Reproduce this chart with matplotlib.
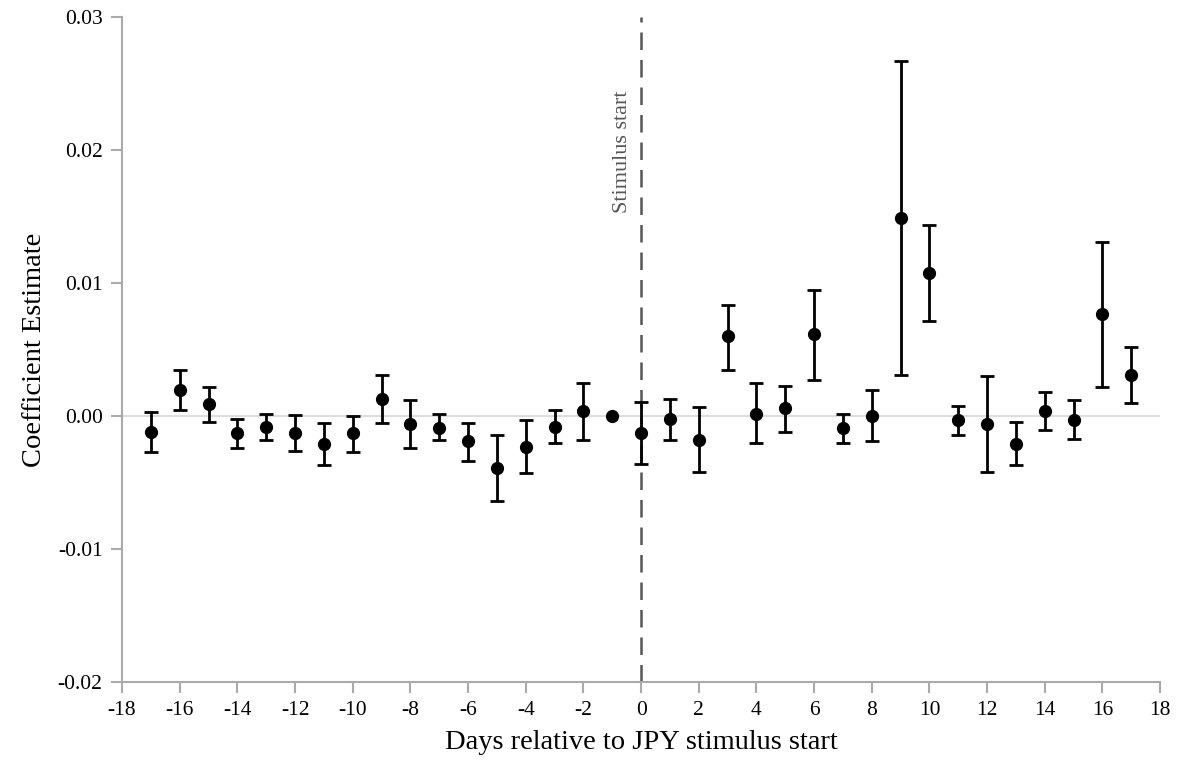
import numpy as np
from matplotlib import pyplot as plt

plt.rcParams['font.family'] = ['Liberation Serif', 'DejaVu Serif']

days = [-17, -16, -15, -14, -13, -12, -11, -10, -9, -8, -7, -6, -5, -4, -3, -2, -1,
        0, 1, 2, 3, 4, 5, 6, 7, 8, 9, 10, 11, 12, 13, 14, 15, 16, 17]
coef = [-0.0012, 0.0020, 0.0009, -0.0013, -0.0008, -0.0013, -0.0021, -0.0013, 0.0013,
        -0.0006, -0.0009, -0.0019, -0.0039, -0.0023, -0.0008, 0.0004, 0.0000,
        -0.0013, -0.0002, -0.0018, 0.0060, 0.0002, 0.0006, 0.0062, -0.0009, 0.0000,
        0.0149, 0.0108, -0.0003, -0.0006, -0.0021, 0.0004, -0.0003, 0.0077, 0.0031]
ci_low = [-0.0027, 0.0005, -0.0004, -0.0024, -0.0018, -0.0026, -0.0037, -0.0027, -0.0005,
          -0.0024, -0.0018, -0.0034, -0.0064, -0.0043, -0.0020, -0.0018, 0.0000,
          -0.0036, -0.0018, -0.0042, 0.0035, -0.0020, -0.0012, 0.0027, -0.0020, -0.0019,
          0.0031, 0.0072, -0.0014, -0.0042, -0.0037, -0.0010, -0.0017, 0.0022, 0.0010]
ci_high = [0.0003, 0.0035, 0.0022, -0.0002, 0.0002, 0.0001, -0.0005, 0.0000, 0.0031,
           0.0012, 0.0002, -0.0005, -0.0014, -0.0003, 0.0005, 0.0025, 0.0000,
           0.0011, 0.0013, 0.0007, 0.0084, 0.0025, 0.0023, 0.0095, 0.0002, 0.0020,
           0.0267, 0.0144, 0.0008, 0.0030, -0.0004, 0.0018, 0.0012, 0.0131, 0.0052]

x = np.array(days)
y = np.array(coef)
yerr = np.vstack([y - np.array(ci_low), np.array(ci_high) - y])
has_bar = (yerr.sum(axis=0) > 0)

fig = plt.figure(figsize=(11.79, 7.64), dpi=100)
ax = fig.add_axes([0.1035, 0.1073, 0.8805, 0.8698])

ax.axhline(0, color='#dddddd', lw=1.5, zorder=0)
ax.axvline(0, color='#555555', lw=1.8, dashes=(7, 4), zorder=1)
ax.text(-0.3, 0.0199, 'Stimulus start', rotation=90, ha='right', va='center',
        fontsize=16, color='#555555')

# error bars only where an interval exists (day -1 is the reference day)
ax.errorbar(x[has_bar], y[has_bar], yerr=yerr[:, has_bar], fmt='none', ecolor='black',
            elinewidth=2, capsize=5, capthick=2, zorder=2)
ax.plot(x, y, 'o', color='black', markersize=8.5, zorder=3)

ax.set_xlim(-18, 18)
ax.set_ylim(-0.02, 0.03)
ax.set_xticks(np.arange(-18, 19, 2))
ax.set_yticks([-0.02, -0.01, 0.0, 0.01, 0.02, 0.03])
ax.set_yticklabels(['-0.02', '-0.01', '0.00', '0.01', '0.02', '0.03'])
ax.set_xticklabels([str(v) for v in range(-18, 19, 2)])

for side in ['top', 'right']:
    ax.spines[side].set_visible(False)
for side in ['left', 'bottom']:
    ax.spines[side].set_color('#aaaaaa')
    ax.spines[side].set_linewidth(1.5)
ax.tick_params(axis='both', colors='#aaaaaa', length=8, width=1.5, labelsize=15.5,
               labelcolor='black', pad=6)

ax.set_xlabel('Days relative to JPY stimulus start', fontsize=20.5, labelpad=7)
ax.set_ylabel('Coefficient Estimate', fontsize=20.5, labelpad=8)

plt.savefig('out.png', dpi=100)
